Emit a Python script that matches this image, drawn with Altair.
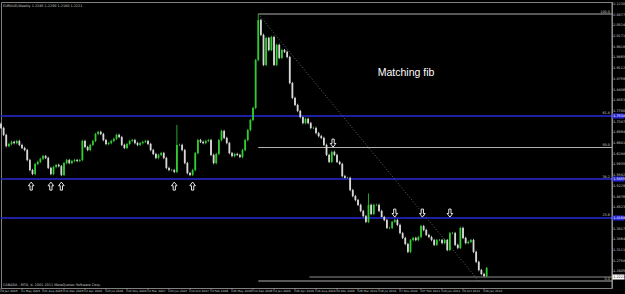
import altair as alt
import pandas as pd

# ---------------- data ----------------
# EURAUD weekly, one value every two weeks, starting 9 Jan 2005
closes = [
    1.714, 1.691, 1.654, 1.661, 1.668, 1.664, 1.671, 1.658, 1.648, 1.641,
    1.608, 1.575, 1.562, 1.595, 1.602, 1.612, 1.621, 1.615, 1.582, 1.562,
    1.585, 1.592, 1.588, 1.559, 1.598, 1.608, 1.598, 1.605, 1.608, 1.605,
    1.608, 1.671, 1.651, 1.641, 1.658, 1.671, 1.694, 1.701, 1.694, 1.674,
    1.661, 1.664, 1.671, 1.678, 1.691, 1.684, 1.658, 1.648, 1.661, 1.671,
    1.674, 1.664, 1.658, 1.664, 1.668, 1.671, 1.661, 1.641, 1.628, 1.615,
    1.625, 1.631, 1.615, 1.582, 1.575, 1.575, 1.569, 1.658, 1.658, 1.641,
    1.598, 1.565, 1.559, 1.575, 1.631, 1.674, 1.668, 1.664, 1.671, 1.674,
    1.625, 1.598, 1.628, 1.674, 1.704, 1.681, 1.664, 1.631, 1.621, 1.628,
    1.625, 1.618, 1.641, 1.674, 1.707, 1.740, 1.780, 1.938, 2.070, 2.021,
    1.922, 2.011, 1.971, 2.014, 1.922, 1.988, 1.945, 1.971, 1.965, 1.948,
    1.862, 1.813, 1.790, 1.770, 1.750, 1.730, 1.744, 1.730, 1.714, 1.714,
    1.697, 1.687, 1.681, 1.658, 1.625, 1.602, 1.635, 1.625, 1.602, 1.595,
    1.555, 1.549, 1.549, 1.509, 1.489, 1.476, 1.460, 1.440, 1.423, 1.404,
    1.460, 1.430, 1.460, 1.460, 1.440, 1.420, 1.410, 1.384, 1.384, 1.404,
    1.410, 1.394, 1.367, 1.351, 1.331, 1.305, 1.344, 1.351, 1.344, 1.354,
    1.390, 1.377, 1.361, 1.354, 1.344, 1.328, 1.344, 1.344, 1.334, 1.344,
    1.311, 1.367, 1.367, 1.328, 1.318, 1.384, 1.351, 1.334, 1.338, 1.344,
    1.305, 1.272, 1.245, 1.232, 1.225, 1.252,
]
first_open = 1.728
spike_bars = [67, 98, 140]
spike_highs = [1.724, 2.090, 1.498]

fib_levels = [100.0, 61.8, 50.0, 38.2, 23.6, 0.0]
fib_names = ["100.0", "61.8", "50.0", "38.2", "23.6", "0.0"]
fib_kind = ["grey", "blue", "grey", "blue", "blue", "grey"]
fib_high_price = 2.090
fib_low_price = 1.2089
fib_high_week = 196
fib_low_week = 364

bid_price = 1.2221
bid_start_week = 235

up_arrow_week = [23, 38, 46, 132, 146]
up_arrow_price = [1.522, 1.522, 1.522, 1.522, 1.522]
down_arrow_week = [253, 300, 321, 342]
down_arrow_price = [1.664, 1.433, 1.433, 1.433]

note_text = "Matching fib"
note_week = 287
note_price = 1.895

date_labels = ["9 Jan 2005", "1 May 2005", "21 Aug 2005", "11 Dec 2005", "2 Apr 2006",
               "23 Jul 2006", "12 Nov 2006", "4 Mar 2007", "24 Jun 2007", "14 Oct 2007",
               "3 Feb 2008", "25 May 2008", "14 Sep 2008", "4 Jan 2009", "26 Apr 2009",
               "16 Aug 2009", "6 Dec 2009", "28 Mar 2010", "18 Jul 2010", "7 Nov 2010",
               "27 Feb 2011", "19 Jun 2011", "9 Oct 2011", "29 Jan 2012"]
date_label_weeks = [16 * k for k in range(len(date_labels))]
price_ticks = [2.1230, 2.0877, 2.0524, 2.0171, 1.9818, 1.9465, 1.9112, 1.8759, 1.8406,
               1.8053, 1.7700, 1.7347, 1.6994, 1.6641, 1.6288, 1.5935, 1.5582, 1.5229,
               1.4876, 1.4523, 1.4170, 1.3817, 1.3464, 1.3111, 1.2758, 1.2405]

title_text = "EURAUD,Weekly  1.2245 1.2290 1.2180 1.2221"
footer_text = "CANADA - MT4, \u00a9 2001-2011 MetaQuotes Software Corp."

# ---------------- tables ----------------
n = len(closes)
bars = pd.DataFrame({"w": [2 * i for i in range(n)], "close": closes})
bars["open"] = [first_open] + closes[:-1]
bars["dir"] = ["up" if c >= o else "down" for o, c in zip(bars["open"], bars["close"])]
bars["high"] = bars[["open", "close"]].max(axis=1) + 0.004
bars["low"] = bars[["open", "close"]].min(axis=1) - 0.004
for b, h in zip(spike_bars, spike_highs):
    bars.loc[b, "high"] = h

XMAX = 465.5
fib_rows = []
for lv, nm, kd in zip(fib_levels, fib_names, fib_kind):
    fib_rows.append({
        "price": fib_low_price + lv / 100.0 * (fib_high_price - fib_low_price),
        "name": nm, "kind": kd,
        "x1": 0 if kd == "blue" else fib_high_week, "x2": XMAX,
    })
fib = pd.DataFrame(fib_rows)
diag = pd.DataFrame({"w": [fib_high_week, fib_low_week], "p": [fib_high_price, fib_low_price]})
bid = pd.DataFrame({"x1": [bid_start_week], "x2": [XMAX], "price": [bid_price]})
ups = pd.DataFrame({"w": up_arrow_week, "p": up_arrow_price})
downs = pd.DataFrame({"w": down_arrow_week, "p": down_arrow_price})
note = pd.DataFrame({"w": [note_week], "p": [note_price], "t": [note_text]})
marks_on_axis = pd.DataFrame({
    "price": [r["price"] for r in fib_rows if r["kind"] == "blue"] + [bid_price],
    "col": ["#2a2ad8"] * 3 + ["#ffffff"],
    "tcol": ["#ffffff"] * 3 + ["#000000"],
})
xticks = pd.DataFrame({"w": date_label_weeks, "t": date_labels})
yticks = pd.DataFrame({"price": price_ticks})
corner = pd.DataFrame({"t": [title_text]})
foot = pd.DataFrame({"t": [footer_text]})

# ---------------- scales / styles ----------------
GREEN = "#33cc33"
WHITE = "#d8d8d8"
GREY = "#9a9a9a"
BLUE = "#2a2ad8"
LBL = "#cfcfcf"
FONT = "DejaVu Sans"
SMALL = 3.4
XSMALL = 2.9

xs = alt.Scale(domain=[0, XMAX], nice=False, zero=False)
ys = alt.Scale(domain=[1.1858, 2.1296], nice=False, zero=False)


def X(f):
    return alt.X(f, scale=xs, axis=None)


def Y(f):
    return alt.Y(f, scale=ys, axis=None)


color_dir = alt.Color("dir:N", scale=alt.Scale(domain=["up", "down"], range=[GREEN, WHITE]),
                      legend=None)

wicks = alt.Chart(bars).mark_rule(strokeWidth=0.8).encode(
    x=X("w:Q"), y=Y("low:Q"), y2="high:Q", color=color_dir)
bodies = alt.Chart(bars).mark_rule(strokeWidth=1.8).encode(
    x=X("w:Q"), y=Y("open:Q"), y2="close:Q", color=color_dir)

blue_lines = alt.Chart(fib[fib["kind"] == "blue"]).mark_rule(color=BLUE, strokeWidth=1.6).encode(
    x=X("x1:Q"), x2="x2:Q", y=Y("price:Q"))
grey_lines = alt.Chart(fib[fib["kind"] == "grey"]).mark_rule(color="#b0b0b0", strokeWidth=1).encode(
    x=X("x1:Q"), x2="x2:Q", y=Y("price:Q"))
bid_line = alt.Chart(bid).mark_rule(color="#b0b0b0", strokeWidth=0.8).encode(
    x=X("x1:Q"), x2="x2:Q", y=Y("price:Q"))
fib_text = alt.Chart(fib).mark_text(align="right", baseline="bottom", dy=-0.5, fontSize=SMALL,
                                    font=FONT, color="#c8c8c8").encode(
    x=alt.value(609), y=Y("price:Q"), text="name:N")
diag_line = alt.Chart(diag).mark_line(color="#808080", strokeWidth=0.8, strokeDash=[1, 2]).encode(
    x=X("w:Q"), y=Y("p:Q"))

UP_PATH = "M0,-1L0.7,-0.1L0.28,-0.1L0.28,1L-0.28,1L-0.28,-0.1L-0.7,-0.1Z"
DOWN_PATH = "M0,1L0.7,0.1L0.28,0.1L0.28,-1L-0.28,-1L-0.28,0.1L-0.7,0.1Z"
up_arrows = alt.Chart(ups).mark_point(shape=UP_PATH, size=64, filled=True, fill="black",
                                      stroke="white", strokeWidth=0.9, opacity=1).encode(
    x=X("w:Q"), y=Y("p:Q"))
down_arrows = alt.Chart(downs).mark_point(shape=DOWN_PATH, size=64, filled=True, fill="black",
                                          stroke="white", strokeWidth=0.9, opacity=1).encode(
    x=X("w:Q"), y=Y("p:Q"))
note_mark = alt.Chart(note).mark_text(align="left", baseline="middle", fontSize=10.5,
                                      font="Liberation Sans", color="white").encode(
    x=X("w:Q"), y=Y("p:Q"), text="t:N")

# price axis (right) and time axis (bottom)
axis_rules = alt.Chart(pd.DataFrame({"a": [0]})).mark_rule(color=GREY, strokeWidth=1).encode(
    x=alt.value(611), x2=alt.value(611), y=alt.value(0), y2=alt.value(286))
ytick_marks = alt.Chart(yticks).mark_rule(color=GREY, strokeWidth=0.7).encode(
    x=alt.value(611), x2=alt.value(612.5), y=Y("price:Q"))
ytick_text = alt.Chart(yticks).mark_text(align="left", baseline="middle", fontSize=SMALL,
                                         font=FONT, color=LBL).encode(
    x=alt.value(612.2), y=Y("price:Q"), text=alt.Text("price:Q", format=".4f"))
xtick_marks = alt.Chart(xticks).mark_rule(color=GREY, strokeWidth=0.7).encode(
    x=X("w:Q"), y=alt.value(286), y2=alt.value(290))
xtick_text = alt.Chart(xticks).mark_text(align="left", baseline="top", fontSize=XSMALL,
                                         font=FONT, color=LBL, dx=1).encode(
    x=X("w:Q"), y=alt.value(287.6), text="t:N")

axis_boxes = alt.Chart(marks_on_axis).mark_point(shape="M-1,-0.42H1V0.42H-1Z", size=144,
                                                 filled=True, opacity=1).encode(
    x=alt.value(617.5), y=Y("price:Q"), fill=alt.Color("col:N", scale=None))
axis_box_text = alt.Chart(marks_on_axis).mark_text(align="left", baseline="middle",
                                                   fontSize=SMALL, font=FONT).encode(
    x=alt.value(612.2), y=Y("price:Q"), text=alt.Text("price:Q", format=".4f"),
    color=alt.Color("tcol:N", scale=None))
corner_text = alt.Chart(corner).mark_text(align="left", baseline="top", fontSize=SMALL, font=FONT,
                                          color="#c8c8c8").encode(
    x=alt.value(2), y=alt.value(1.5), text="t:N")
foot_text = alt.Chart(foot).mark_text(align="left", baseline="middle", fontSize=SMALL, font=FONT,
                                      color="#c8c8c8").encode(
    x=alt.value(2), y=alt.value(283), text="t:N")

chart = alt.layer(
    wicks, blue_lines, grey_lines, bid_line, diag_line, bodies, fib_text,
    up_arrows, down_arrows, note_mark, axis_rules, ytick_marks, ytick_text,
    xtick_marks, xtick_text, axis_boxes, axis_box_text, corner_text, foot_text,
).properties(
    width=611, height=286,
    padding={"left": 1, "top": 2, "right": 13, "bottom": 6},
    autosize=alt.AutoSizeParams(type="none"),
    background="black",
).configure_view(stroke="#808080", strokeWidth=1)

chart.save("out.html", embed_options={"renderer": "svg", "actions": False})
